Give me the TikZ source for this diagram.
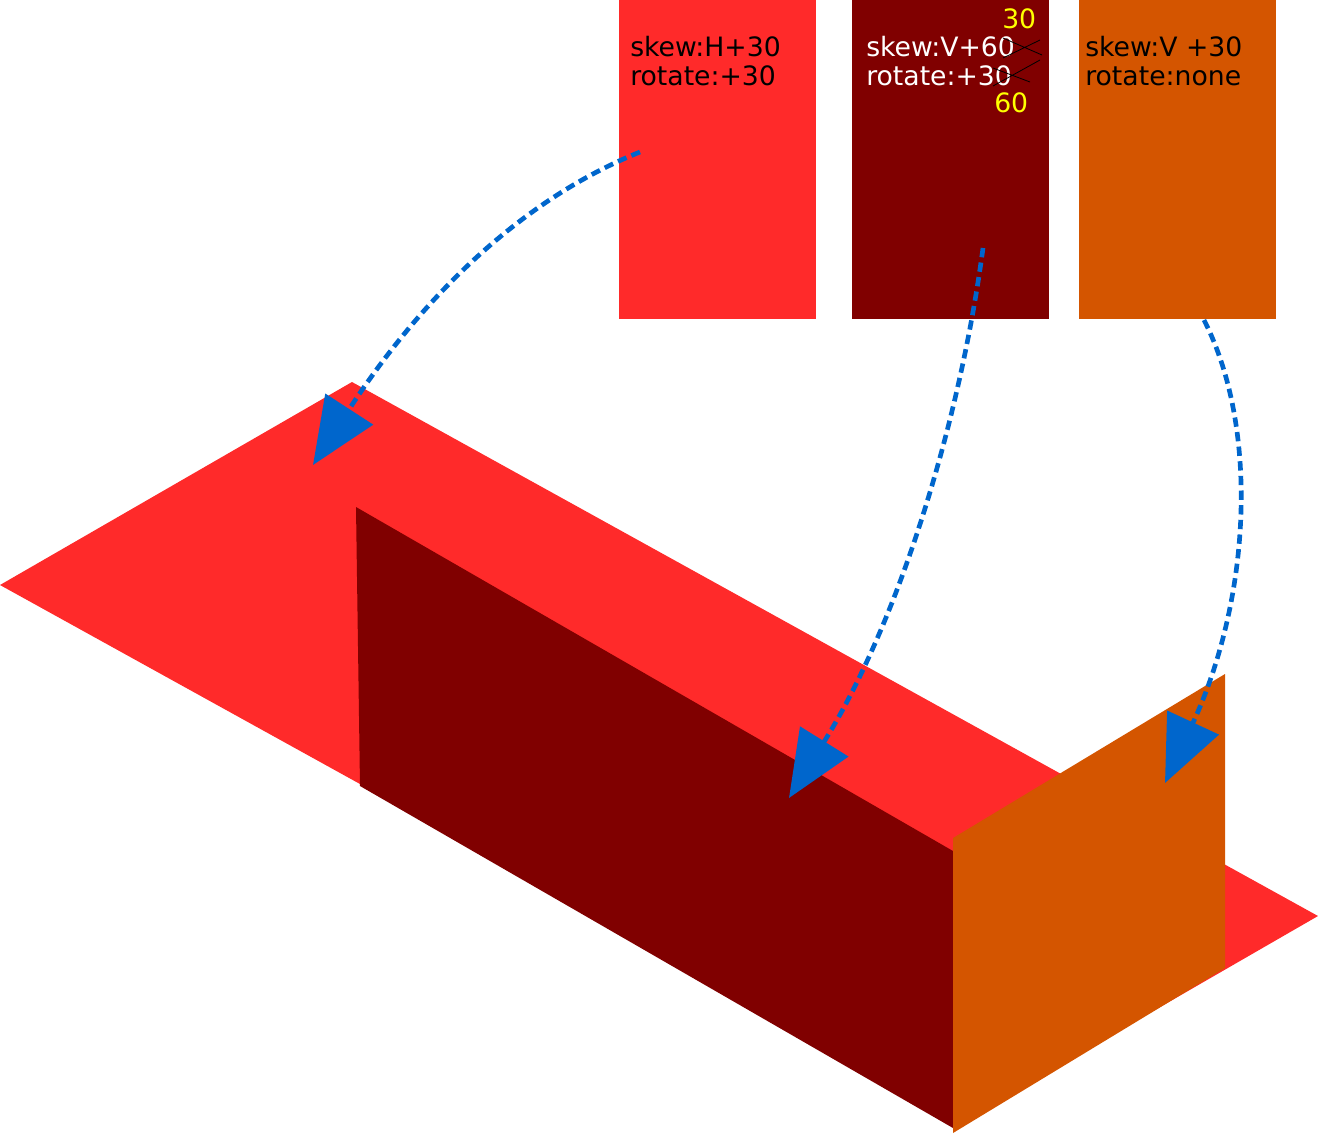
\documentclass[tikz,border=0pt]{standalone}
\usepackage{fontspec}
\setmainfont{DejaVu Sans}
\usetikzlibrary{arrows.meta}
\definecolor{rd}{HTML}{FF2A2A}
\definecolor{dk}{HTML}{800000}
\definecolor{og}{HTML}{D45500}
\definecolor{bl}{HTML}{0066CC}
\definecolor{yl}{HTML}{FFFF00}
\tikzset{lbl/.style={font=\fontsize{20}{22}\selectfont,anchor=base west,inner sep=0},
 arr/.style={bl,line width=3.5pt,dash pattern=on 7pt off 4pt,-{Triangle[length=50pt,width=42pt]}}}
\begin{document}
\begin{tikzpicture}[x=0.75pt,y=-0.75pt]
\useasboundingbox (0,0) rectangle (1318,1133);
\fill[rd] (0,585)--(352,382)--(1318,916)--(966,1119)--cycle;
\fill[dk] (356,507)--(953,851)--(953,1128)--(360,786)--cycle;
\fill[og] (953,838)--(1225,674)--(1225,968)--(953,1133)--cycle;
\fill[rd] (619,0) rectangle (816,319);
\fill[dk] (852,0) rectangle (1049,319);
\fill[og] (1079,0) rectangle (1276,319);
\node[lbl] (t1) at (630,56) {skew:H+30};
\node[lbl] (t2) at (630,85) {rotate:+30};
\node[lbl,white] (t3) at (866,56) {skew:V+60};
\node[lbl,white] (t4) at (866,85) {rotate:+30};
\node[lbl,yl] (t5) at (1002,28) {30};
\node[lbl,yl] (t6) at (994,112) {60};
\draw[black,line width=0.6pt] (1003,38)--(1042,55) (1003,58)--(1040,40);
\draw[black,line width=0.6pt] (993,68)--(1030,82) (993,86)--(1040,60);
\node[lbl] (t7) at (1085,56) {skew:V +30};
\node[lbl] (t8) at (1085,85) {rotate:none};
\coordinate (a1) at (640,152); \coordinate (b1) at (313,465);
\coordinate (a2) at (983,248); \coordinate (b2) at (789,798);
\coordinate (a3) at (1204,320); \coordinate (b3) at (1165,783);
\draw[arr] (a1) .. controls (520,200) and (420,300) .. (b1);
\draw[arr] (a2) .. controls (960,420) and (900,620) .. (b2);
\draw[arr] (a3) .. controls (1260,430) and (1250,600) .. (b3);
\end{tikzpicture}
\end{document}
